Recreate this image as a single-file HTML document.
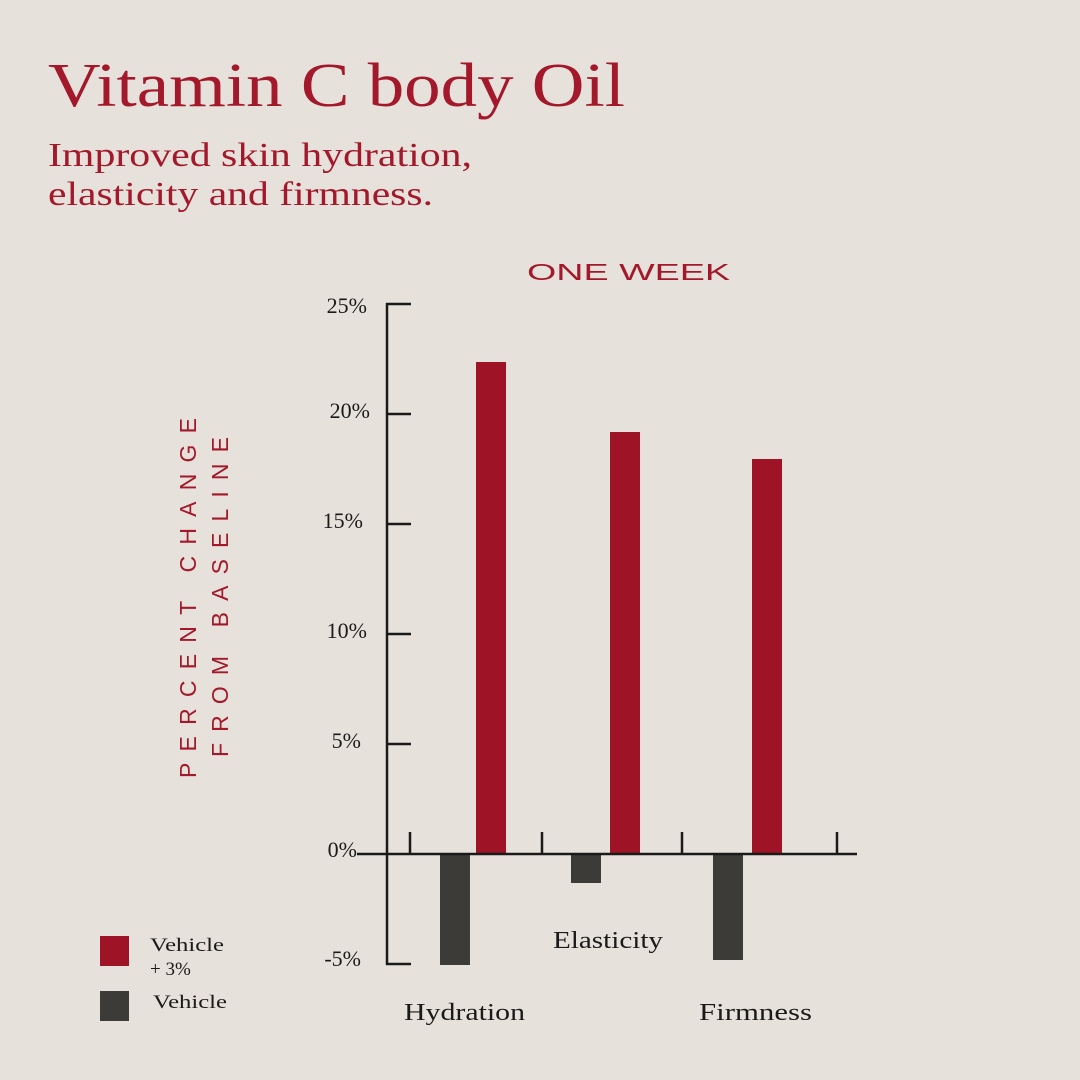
<!DOCTYPE html>
<html><head><meta charset="utf-8"><style>
html,body{margin:0;padding:0;}
body{width:1080px;height:1080px;background:#e6e1da;position:relative;overflow:hidden;font-family:"Liberation Serif",serif;}
</style></head><body>
<svg width="1080" height="1080" style="position:absolute;left:0;top:0">
<text x="48" y="106" font-family="Liberation Serif,serif" font-size="62" fill="#a3182b" textLength="577" lengthAdjust="spacingAndGlyphs">Vitamin C body Oil</text>
<text x="48" y="166" font-family="Liberation Serif,serif" font-size="34" fill="#a3182b" textLength="424" lengthAdjust="spacingAndGlyphs">Improved skin hydration,</text>
<text x="48" y="205" font-family="Liberation Serif,serif" font-size="34" fill="#a3182b" textLength="385" lengthAdjust="spacingAndGlyphs">elasticity and firmness.</text>
<text x="527" y="280" font-family="Liberation Sans,sans-serif" font-size="23" fill="#a3182b" textLength="203" lengthAdjust="spacingAndGlyphs">ONE WEEK</text>
<text transform="translate(196,778) rotate(-90)" font-family="Liberation Sans,sans-serif" font-size="23" fill="#a3182b" textLength="360" lengthAdjust="spacing">PERCENT CHANGE</text>
<text transform="translate(228,757) rotate(-90)" font-family="Liberation Sans,sans-serif" font-size="23" fill="#a3182b" textLength="320" lengthAdjust="spacing">FROM BASELINE</text>
<g fill="#9e1426">
<rect x="476" y="362" width="30" height="492"/>
<rect x="610" y="432" width="30" height="422"/>
<rect x="752" y="459" width="30" height="395"/>
</g>
<g fill="#3c3b38">
<rect x="440" y="854" width="30" height="111"/>
<rect x="571" y="854" width="30" height="29"/>
<rect x="713" y="854" width="30" height="106"/>
</g>
<g stroke="#1a1a1a" stroke-width="2.5" fill="none">
<line x1="387" y1="303" x2="387" y2="965"/>
<line x1="386" y1="304" x2="411" y2="304"/>
<line x1="386" y1="414" x2="411" y2="414"/>
<line x1="386" y1="524" x2="411" y2="524"/>
<line x1="386" y1="634" x2="411" y2="634"/>
<line x1="386" y1="744" x2="411" y2="744"/>
<line x1="386" y1="964" x2="411" y2="964"/>
<line x1="357" y1="854" x2="857" y2="854"/>
<line x1="410" y1="832" x2="410" y2="854"/>
<line x1="542" y1="832" x2="542" y2="854"/>
<line x1="682" y1="832" x2="682" y2="854"/>
<line x1="837" y1="832" x2="837" y2="854"/>
</g>
<g font-family="Liberation Serif,serif" font-size="22" fill="#1a1a1a" text-anchor="end">
<text x="367" y="313">25%</text>
<text x="370" y="418">20%</text>
<text x="363" y="528">15%</text>
<text x="367" y="638">10%</text>
<text x="361" y="748">5%</text>
<text x="357" y="857">0%</text>
<text x="361" y="966">-5%</text>
</g>
<g font-family="Liberation Serif,serif" font-size="24" fill="#1a1a1a">
<text x="404" y="1020" textLength="121" lengthAdjust="spacingAndGlyphs">Hydration</text>
<text x="553" y="948" textLength="110" lengthAdjust="spacingAndGlyphs">Elasticity</text>
<text x="699" y="1020" textLength="113" lengthAdjust="spacingAndGlyphs">Firmness</text>
</g>
<rect x="100" y="936" width="29" height="30" fill="#9e1426"/>
<rect x="100" y="991" width="29" height="30" fill="#3c3b38"/>
<g font-family="Liberation Serif,serif" font-size="19" fill="#1a1a1a">
<text x="150" y="951" textLength="74" lengthAdjust="spacingAndGlyphs">Vehicle</text>
<text x="150" y="975">+ 3%</text>
<text x="153" y="1008" textLength="74" lengthAdjust="spacingAndGlyphs">Vehicle</text>
</g>
</svg>
</body></html>
